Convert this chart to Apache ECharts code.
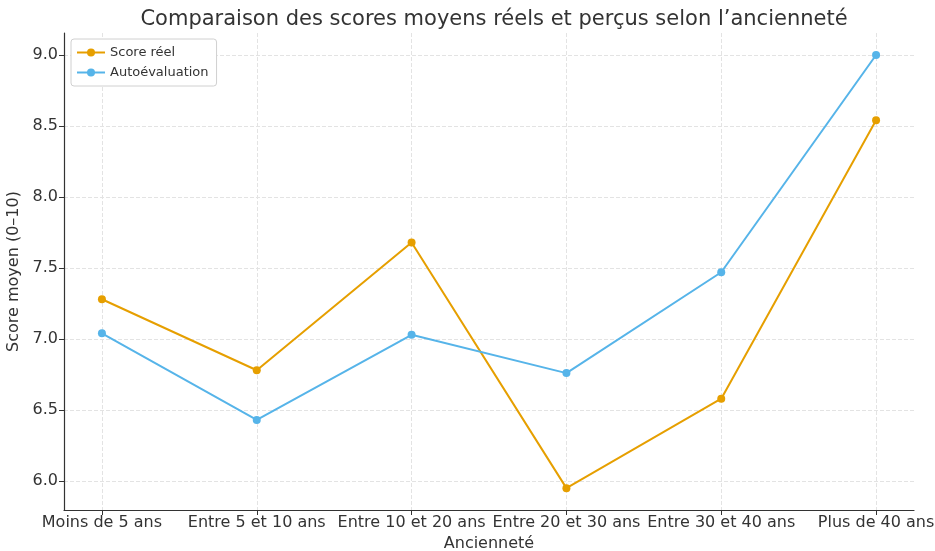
<!DOCTYPE html>
<html>
<head>
<meta charset="utf-8">
<script src="https://cdn.jsdelivr.net/npm/echarts@6/dist/echarts.min.js"></script>
<style>html,body{margin:0;padding:0;background:#fff;overflow:hidden}#c{width:935px;height:551px}</style>
</head>
<body>
<div id="c"></div>
<script>
const categories = ["Moins de 5 ans", "Entre 5 et 10 ans", "Entre 10 et 20 ans", "Entre 20 et 30 ans", "Entre 30 et 40 ans", "Plus de 40 ans"];
const scoreReel = [7.28, 6.78, 7.68, 5.95, 6.58, 8.54];
const autoEval = [7.04, 6.43, 7.03, 6.76, 7.47, 9.00];
const yTicks = [6.0, 6.5, 7.0, 7.5, 8.0, 8.5, 9.0];

const idx = categories.map((_, i) => i);
const font = "DejaVu Sans";
const chart = echarts.init(document.getElementById('c'), null, {renderer: 'canvas'});
chart.setOption({
  animation: false,
  backgroundColor: '#fff',
  title: {
    text: "Comparaison des scores moyens réels et perçus selon l’ancienneté",
    left: 489, top: 4, textAlign: 'center',
    textStyle: {fontFamily: font, fontSize: 21, fontWeight: 'normal', color: '#333'}
  },
  legend: {
    left: 71, top: 39, orient: 'vertical',
    itemWidth: 28, itemHeight: 10, itemGap: 7,
    padding: [7, 8, 7, 5],
    borderColor: '#d0d0d0', borderWidth: 1, borderRadius: 3,
    backgroundColor: '#fff',
    textStyle: {fontFamily: font, fontSize: 13, color: '#333'},
    data: ['Score réel', 'Autoévaluation']
  },
  grid: {left: 64, right: 21, top: 33, bottom: 41, containLabel: false, outerBoundsMode: 'none'},
  xAxis: {
    type: 'value', min: -0.245, max: 5.245,
    name: 'Ancienneté', nameLocation: 'middle', nameGap: 23,
    nameTextStyle: {fontFamily: font, fontSize: 16, color: '#333'},
    axisLine: {show: true, onZero: false, lineStyle: {color: '#333', width: 1.2}},
    axisTick: {show: true, customValues: idx, length: 5, lineStyle: {color: '#333'}},
    axisLabel: {customValues: idx, formatter: v => categories[Math.round(v)], fontFamily: font, fontSize: 16, color: '#333', margin: 5},
    splitLine: {show: true, lineStyle: {color: '#e3e3e3', type: 'dashed', width: 1}}
  },
  yAxis: {
    type: 'value', min: 5.796, max: 9.155,
    name: 'Score moyen (0–10)', nameLocation: 'middle', nameGap: 34,
    nameTextStyle: {fontFamily: font, fontSize: 16, color: '#333'},
    axisLine: {show: true, onZero: false, lineStyle: {color: '#333', width: 1.2}},
    axisTick: {show: true, customValues: yTicks, length: 5, lineStyle: {color: '#333'}},
    axisLabel: {customValues: yTicks, formatter: v => v.toFixed(1), fontFamily: font, fontSize: 16, color: '#333', margin: 6},
    splitLine: {show: true, lineStyle: {color: '#e3e3e3', type: 'dashed', width: 1}}
  },
  series: [
    {name: 'Score réel', type: 'line', data: idx.map(i => [i, scoreReel[i]]),
     symbol: 'circle', symbolSize: 8, lineStyle: {width: 2, color: '#E69F00'}, itemStyle: {color: '#E69F00'}},
    {name: 'Autoévaluation', type: 'line', data: idx.map(i => [i, autoEval[i]]),
     symbol: 'circle', symbolSize: 8, lineStyle: {width: 2, color: '#56B4E9'}, itemStyle: {color: '#56B4E9'}}
  ]
});
</script>
</body>
</html>
